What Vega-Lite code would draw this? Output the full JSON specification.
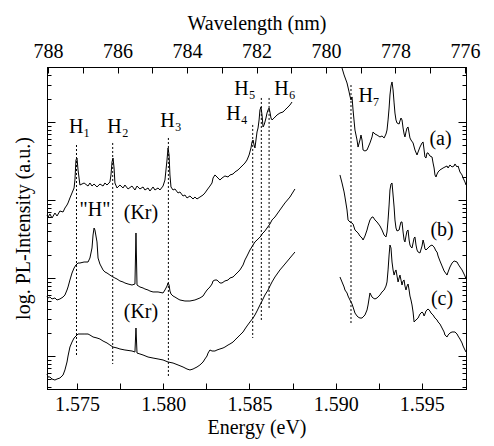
{
"$schema":"https://vega.github.io/schema/vega-lite/v6.json",
"width":419,"height":322,
"autosize":{"type":"none"},
"padding":{"left":47,"top":67,"right":28,"bottom":57},
"background":"white",
"view":{"stroke":"black","strokeWidth":1},
"config":{"font":"Liberation Serif","view":{"stroke":"black","strokeWidth":1},
"style":{"guide-label":{"font":"Liberation Serif","fontSize":20,"fill":"black"},"guide-title":{"font":"Liberation Serif","fontSize":20,"fontWeight":"normal","fill":"black"}},
"axis":{"labelFont":"Liberation Serif","titleFont":"Liberation Serif","labelFontSize":20,"titleFontSize":20,"titleFontWeight":"normal","labelColor":"black","titleColor":"black","tickColor":"black","domain":true,"domainColor":"black","domainWidth":1,"grid":false,"tickWidth":1}},
"datasets":{
"curves":[
{"s":"a1","E":1.57326,"L":1.808},{"s":"a1","E":1.57332,"L":1.782},{"s":"a1","E":1.57343,"L":1.821},{"s":"a1","E":1.57355,"L":1.769},{"s":"a1","E":1.57372,"L":1.833},{"s":"a1","E":1.57384,"L":1.795},{"s":"a1","E":1.57401,"L":1.859},{"s":"a1","E":1.57419,"L":1.846},{"s":"a1","E":1.5743,"L":1.897},{"s":"a1","E":1.57442,"L":1.936},{"s":"a1","E":1.57448,"L":1.962},{"s":"a1","E":1.57459,"L":2.026},{"s":"a1","E":1.57471,"L":2.09},{"s":"a1","E":1.57483,"L":2.154},{"s":"a1","E":1.57488,"L":2.256},{"s":"a1","E":1.57494,"L":2.513},{"s":"a1","E":1.575,"L":2.538},{"s":"a1","E":1.57506,"L":2.385},{"s":"a1","E":1.57517,"L":2.192},{"s":"a1","E":1.57541,"L":2.218},{"s":"a1","E":1.57564,"L":2.179},{"s":"a1","E":1.57575,"L":2.218},{"s":"a1","E":1.57587,"L":2.179},{"s":"a1","E":1.57599,"L":2.205},{"s":"a1","E":1.57616,"L":2.167},{"s":"a1","E":1.57633,"L":2.205},{"s":"a1","E":1.57651,"L":2.179},{"s":"a1","E":1.57662,"L":2.218},{"s":"a1","E":1.57674,"L":2.192},{"s":"a1","E":1.57691,"L":2.231},{"s":"a1","E":1.57697,"L":2.321},{"s":"a1","E":1.57703,"L":2.487},{"s":"a1","E":1.57709,"L":2.538},{"s":"a1","E":1.57715,"L":2.41},{"s":"a1","E":1.5772,"L":2.218},{"s":"a1","E":1.57732,"L":2.154},{"s":"a1","E":1.57749,"L":2.192},{"s":"a1","E":1.57767,"L":2.154},{"s":"a1","E":1.57778,"L":2.192},{"s":"a1","E":1.57796,"L":2.141},{"s":"a1","E":1.57819,"L":2.179},{"s":"a1","E":1.57836,"L":2.128},{"s":"a1","E":1.57848,"L":2.179},{"s":"a1","E":1.57865,"L":2.141},{"s":"a1","E":1.57883,"L":2.167},{"s":"a1","E":1.57894,"L":2.128},{"s":"a1","E":1.57912,"L":2.154},{"s":"a1","E":1.57923,"L":2.115},{"s":"a1","E":1.57941,"L":2.167},{"s":"a1","E":1.57952,"L":2.128},{"s":"a1","E":1.5797,"L":2.154},{"s":"a1","E":1.57981,"L":2.128},{"s":"a1","E":1.57999,"L":2.179},{"s":"a1","E":1.5801,"L":2.256},{"s":"a1","E":1.58022,"L":2.513},{"s":"a1","E":1.58028,"L":2.667},{"s":"a1","E":1.58034,"L":2.577},{"s":"a1","E":1.58039,"L":2.321},{"s":"a1","E":1.58045,"L":2.167},{"s":"a1","E":1.58057,"L":2.128},{"s":"a1","E":1.58068,"L":2.141},{"s":"a1","E":1.58086,"L":2.09},{"s":"a1","E":1.58097,"L":2.103},{"s":"a1","E":1.58115,"L":2.051},{"s":"a1","E":1.58126,"L":2.064},{"s":"a1","E":1.58138,"L":2.026},{"s":"a1","E":1.58155,"L":2.051},{"s":"a1","E":1.58173,"L":2.013},{"s":"a1","E":1.58184,"L":2.038},{"s":"a1","E":1.58196,"L":2.013},{"s":"a1","E":1.58213,"L":2.038},{"s":"a1","E":1.58231,"L":2.064},{"s":"a1","E":1.58242,"L":2.09},{"s":"a1","E":1.58254,"L":2.128},{"s":"a1","E":1.58271,"L":2.179},{"s":"a1","E":1.58283,"L":2.218},{"s":"a1","E":1.58289,"L":2.282},{"s":"a1","E":1.583,"L":2.321},{"s":"a1","E":1.58312,"L":2.295},{"s":"a1","E":1.58329,"L":2.256},{"s":"a1","E":1.58341,"L":2.282},{"s":"a1","E":1.58358,"L":2.308},{"s":"a1","E":1.58376,"L":2.295},{"s":"a1","E":1.58387,"L":2.321},{"s":"a1","E":1.58405,"L":2.333},{"s":"a1","E":1.58416,"L":2.359},{"s":"a1","E":1.58434,"L":2.385},{"s":"a1","E":1.58445,"L":2.41},{"s":"a1","E":1.58463,"L":2.449},{"s":"a1","E":1.58474,"L":2.474},{"s":"a1","E":1.58486,"L":2.513},{"s":"a1","E":1.58498,"L":2.577},{"s":"a1","E":1.58509,"L":2.667},{"s":"a1","E":1.58515,"L":2.744},{"s":"a1","E":1.58521,"L":2.769},{"s":"a1","E":1.58527,"L":2.705},{"s":"a1","E":1.58532,"L":2.667},{"s":"a1","E":1.58538,"L":2.769},{"s":"a1","E":1.58544,"L":2.872},{"s":"a1","E":1.5855,"L":2.923},{"s":"a1","E":1.58556,"L":3.026},{"s":"a1","E":1.58561,"L":3.154},{"s":"a1","E":1.58567,"L":3.192},{"s":"a1","E":1.58573,"L":3.09},{"s":"a1","E":1.58579,"L":2.936},{"s":"a1","E":1.58585,"L":2.962},{"s":"a1","E":1.5859,"L":3.0},{"s":"a1","E":1.58596,"L":3.051},{"s":"a1","E":1.58602,"L":3.115},{"s":"a1","E":1.58608,"L":3.154},{"s":"a1","E":1.58614,"L":3.179},{"s":"a1","E":1.58619,"L":3.128},{"s":"a1","E":1.58625,"L":3.051},{"s":"a1","E":1.58631,"L":3.026},{"s":"a1","E":1.58643,"L":3.051},{"s":"a1","E":1.5866,"L":3.09},{"s":"a1","E":1.58677,"L":3.115},{"s":"a1","E":1.58695,"L":3.128},{"s":"a1","E":1.58706,"L":3.154},{"s":"a1","E":1.58718,"L":3.179},{"s":"a1","E":1.58735,"L":3.218},{"s":"a1","E":1.58747,"L":3.256},
{"s":"a2","E":1.59037,"L":3.692},{"s":"a2","E":1.59049,"L":3.603},{"s":"a2","E":1.59066,"L":3.5},{"s":"a2","E":1.59078,"L":3.385},{"s":"a2","E":1.59083,"L":3.333},{"s":"a2","E":1.59089,"L":3.282},{"s":"a2","E":1.59095,"L":3.321},{"s":"a2","E":1.59101,"L":3.154},{"s":"a2","E":1.59112,"L":2.897},{"s":"a2","E":1.59124,"L":2.769},{"s":"a2","E":1.5913,"L":2.679},{"s":"a2","E":1.59141,"L":2.769},{"s":"a2","E":1.59147,"L":2.833},{"s":"a2","E":1.59153,"L":2.769},{"s":"a2","E":1.59159,"L":2.641},{"s":"a2","E":1.5917,"L":2.628},{"s":"a2","E":1.59182,"L":2.641},{"s":"a2","E":1.59199,"L":2.731},{"s":"a2","E":1.59211,"L":2.808},{"s":"a2","E":1.59217,"L":2.872},{"s":"a2","E":1.59228,"L":2.846},{"s":"a2","E":1.5924,"L":2.833},{"s":"a2","E":1.59257,"L":2.808},{"s":"a2","E":1.59269,"L":2.821},{"s":"a2","E":1.59281,"L":2.795},{"s":"a2","E":1.59292,"L":2.846},{"s":"a2","E":1.59298,"L":2.897},{"s":"a2","E":1.59304,"L":3.026},{"s":"a2","E":1.5931,"L":3.179},{"s":"a2","E":1.59315,"L":3.346},{"s":"a2","E":1.59321,"L":3.462},{"s":"a2","E":1.59327,"L":3.513},{"s":"a2","E":1.59333,"L":3.41},{"s":"a2","E":1.59339,"L":3.244},{"s":"a2","E":1.59344,"L":3.115},{"s":"a2","E":1.5935,"L":3.026},{"s":"a2","E":1.59356,"L":2.987},{"s":"a2","E":1.59368,"L":2.974},{"s":"a2","E":1.59373,"L":3.013},{"s":"a2","E":1.59379,"L":3.051},{"s":"a2","E":1.59385,"L":3.026},{"s":"a2","E":1.59391,"L":2.923},{"s":"a2","E":1.59397,"L":2.846},{"s":"a2","E":1.59402,"L":2.808},{"s":"a2","E":1.59408,"L":2.872},{"s":"a2","E":1.59414,"L":2.923},{"s":"a2","E":1.5942,"L":2.936},{"s":"a2","E":1.59426,"L":2.859},{"s":"a2","E":1.59431,"L":2.795},{"s":"a2","E":1.59437,"L":2.769},{"s":"a2","E":1.59449,"L":2.731},{"s":"a2","E":1.5946,"L":2.641},{"s":"a2","E":1.59472,"L":2.577},{"s":"a2","E":1.59478,"L":2.615},{"s":"a2","E":1.59489,"L":2.679},{"s":"a2","E":1.59501,"L":2.731},{"s":"a2","E":1.59507,"L":2.744},{"s":"a2","E":1.59513,"L":2.641},{"s":"a2","E":1.59518,"L":2.551},{"s":"a2","E":1.59524,"L":2.538},{"s":"a2","E":1.5953,"L":2.603},{"s":"a2","E":1.59536,"L":2.603},{"s":"a2","E":1.59547,"L":2.564},{"s":"a2","E":1.59559,"L":2.551},{"s":"a2","E":1.59565,"L":2.474},{"s":"a2","E":1.59571,"L":2.41},{"s":"a2","E":1.59576,"L":2.321},{"s":"a2","E":1.59582,"L":2.295},{"s":"a2","E":1.59588,"L":2.333},{"s":"a2","E":1.59594,"L":2.359},{"s":"a2","E":1.59605,"L":2.385},{"s":"a2","E":1.59623,"L":2.41},{"s":"a2","E":1.59634,"L":2.423},{"s":"a2","E":1.59646,"L":2.436},{"s":"a2","E":1.59652,"L":2.41},{"s":"a2","E":1.59663,"L":2.449},{"s":"a2","E":1.59675,"L":2.423},{"s":"a2","E":1.59687,"L":2.436},{"s":"a2","E":1.59692,"L":2.462},{"s":"a2","E":1.59704,"L":2.423},{"s":"a2","E":1.5971,"L":2.436},{"s":"a2","E":1.59721,"L":2.359},{"s":"a2","E":1.59733,"L":2.321},{"s":"a2","E":1.59739,"L":2.282},{"s":"a2","E":1.5975,"L":2.231},{"s":"a2","E":1.59756,"L":2.192},
{"s":"b1","E":1.57326,"L":0.769},{"s":"b1","E":1.57332,"L":0.744},{"s":"b1","E":1.57343,"L":0.756},{"s":"b1","E":1.57355,"L":0.731},{"s":"b1","E":1.57372,"L":0.744},{"s":"b1","E":1.57384,"L":0.718},{"s":"b1","E":1.57401,"L":0.731},{"s":"b1","E":1.57419,"L":0.756},{"s":"b1","E":1.5743,"L":0.782},{"s":"b1","E":1.57442,"L":0.846},{"s":"b1","E":1.57448,"L":0.885},{"s":"b1","E":1.57459,"L":0.974},{"s":"b1","E":1.57471,"L":1.064},{"s":"b1","E":1.57483,"L":1.128},{"s":"b1","E":1.57494,"L":1.167},{"s":"b1","E":1.57506,"L":1.192},{"s":"b1","E":1.57517,"L":1.192},{"s":"b1","E":1.57541,"L":1.205},{"s":"b1","E":1.57564,"L":1.205},{"s":"b1","E":1.57575,"L":1.256},{"s":"b1","E":1.57587,"L":1.385},{"s":"b1","E":1.57593,"L":1.551},{"s":"b1","E":1.57599,"L":1.641},{"s":"b1","E":1.57604,"L":1.615},{"s":"b1","E":1.57616,"L":1.462},{"s":"b1","E":1.57622,"L":1.256},{"s":"b1","E":1.57633,"L":1.179},{"s":"b1","E":1.57651,"L":1.103},{"s":"b1","E":1.57662,"L":1.077},{"s":"b1","E":1.57674,"L":1.064},{"s":"b1","E":1.57691,"L":1.038},{"s":"b1","E":1.57709,"L":1.013},{"s":"b1","E":1.5772,"L":1.0},{"s":"b1","E":1.57732,"L":0.987},{"s":"b1","E":1.57749,"L":0.962},{"s":"b1","E":1.57767,"L":0.949},{"s":"b1","E":1.57778,"L":0.936},{"s":"b1","E":1.57796,"L":0.923},{"s":"b1","E":1.57819,"L":0.91},{"s":"b1","E":1.57836,"L":0.923},{"s":"b1","E":1.57842,"L":1.577},{"s":"b1","E":1.57848,"L":0.91},{"s":"b1","E":1.57865,"L":0.885},{"s":"b1","E":1.57883,"L":0.872},{"s":"b1","E":1.57894,"L":0.859},{"s":"b1","E":1.57912,"L":0.846},{"s":"b1","E":1.57923,"L":0.833},{"s":"b1","E":1.57941,"L":0.821},{"s":"b1","E":1.5797,"L":0.821},{"s":"b1","E":1.57999,"L":0.808},{"s":"b1","E":1.5801,"L":0.846},{"s":"b1","E":1.58022,"L":0.897},{"s":"b1","E":1.58028,"L":0.936},{"s":"b1","E":1.58034,"L":0.91},{"s":"b1","E":1.58039,"L":0.833},{"s":"b1","E":1.58045,"L":0.795},{"s":"b1","E":1.58057,"L":0.769},{"s":"b1","E":1.58068,"L":0.756},{"s":"b1","E":1.58086,"L":0.731},{"s":"b1","E":1.58097,"L":0.718},{"s":"b1","E":1.58126,"L":0.705},{"s":"b1","E":1.58155,"L":0.705},{"s":"b1","E":1.58184,"L":0.718},{"s":"b1","E":1.58213,"L":0.744},{"s":"b1","E":1.58231,"L":0.769},{"s":"b1","E":1.58242,"L":0.808},{"s":"b1","E":1.58254,"L":0.846},{"s":"b1","E":1.58271,"L":0.885},{"s":"b1","E":1.58283,"L":0.923},{"s":"b1","E":1.58289,"L":0.962},{"s":"b1","E":1.583,"L":0.974},{"s":"b1","E":1.58312,"L":0.974},{"s":"b1","E":1.58329,"L":0.936},{"s":"b1","E":1.58341,"L":0.936},{"s":"b1","E":1.58358,"L":0.962},{"s":"b1","E":1.58376,"L":0.974},{"s":"b1","E":1.58387,"L":1.0},{"s":"b1","E":1.58405,"L":1.013},{"s":"b1","E":1.58416,"L":1.038},{"s":"b1","E":1.58434,"L":1.077},{"s":"b1","E":1.58445,"L":1.103},{"s":"b1","E":1.58463,"L":1.167},{"s":"b1","E":1.58474,"L":1.231},{"s":"b1","E":1.58486,"L":1.282},{"s":"b1","E":1.58503,"L":1.359},{"s":"b1","E":1.58521,"L":1.423},{"s":"b1","E":1.58532,"L":1.462},{"s":"b1","E":1.58544,"L":1.487},{"s":"b1","E":1.58556,"L":1.513},{"s":"b1","E":1.58567,"L":1.538},{"s":"b1","E":1.58573,"L":1.564},{"s":"b1","E":1.58579,"L":1.577},{"s":"b1","E":1.5859,"L":1.603},{"s":"b1","E":1.58602,"L":1.641},{"s":"b1","E":1.58619,"L":1.692},{"s":"b1","E":1.58631,"L":1.744},{"s":"b1","E":1.58648,"L":1.782},{"s":"b1","E":1.58677,"L":1.872},{"s":"b1","E":1.58706,"L":1.962},{"s":"b1","E":1.58735,"L":2.038},{"s":"b1","E":1.58764,"L":2.141},
{"s":"b2","E":1.59025,"L":2.321},{"s":"b2","E":1.59037,"L":2.218},{"s":"b2","E":1.59049,"L":2.103},{"s":"b2","E":1.59054,"L":2.038},{"s":"b2","E":1.59066,"L":1.872},{"s":"b2","E":1.59072,"L":1.744},{"s":"b2","E":1.59083,"L":1.718},{"s":"b2","E":1.59095,"L":1.705},{"s":"b2","E":1.59101,"L":1.692},{"s":"b2","E":1.59112,"L":1.615},{"s":"b2","E":1.5913,"L":1.577},{"s":"b2","E":1.59141,"L":1.538},{"s":"b2","E":1.59153,"L":1.513},{"s":"b2","E":1.59159,"L":1.487},{"s":"b2","E":1.5917,"L":1.538},{"s":"b2","E":1.59182,"L":1.615},{"s":"b2","E":1.59188,"L":1.667},{"s":"b2","E":1.59199,"L":1.744},{"s":"b2","E":1.59211,"L":1.782},{"s":"b2","E":1.59217,"L":1.782},{"s":"b2","E":1.59228,"L":1.744},{"s":"b2","E":1.5924,"L":1.718},{"s":"b2","E":1.59257,"L":1.667},{"s":"b2","E":1.59269,"L":1.615},{"s":"b2","E":1.59281,"L":1.551},{"s":"b2","E":1.59292,"L":1.526},{"s":"b2","E":1.59298,"L":1.59},{"s":"b2","E":1.59304,"L":1.744},{"s":"b2","E":1.5931,"L":1.936},{"s":"b2","E":1.59315,"L":2.128},{"s":"b2","E":1.59321,"L":2.205},{"s":"b2","E":1.59327,"L":2.218},{"s":"b2","E":1.59333,"L":2.064},{"s":"b2","E":1.59339,"L":1.91},{"s":"b2","E":1.59344,"L":1.744},{"s":"b2","E":1.5935,"L":1.641},{"s":"b2","E":1.59356,"L":1.603},{"s":"b2","E":1.59368,"L":1.615},{"s":"b2","E":1.59373,"L":1.667},{"s":"b2","E":1.59379,"L":1.718},{"s":"b2","E":1.59385,"L":1.718},{"s":"b2","E":1.59391,"L":1.59},{"s":"b2","E":1.59397,"L":1.487},{"s":"b2","E":1.59402,"L":1.462},{"s":"b2","E":1.59408,"L":1.538},{"s":"b2","E":1.59414,"L":1.603},{"s":"b2","E":1.5942,"L":1.615},{"s":"b2","E":1.59426,"L":1.487},{"s":"b2","E":1.59431,"L":1.423},{"s":"b2","E":1.59437,"L":1.397},{"s":"b2","E":1.59443,"L":1.385},{"s":"b2","E":1.59449,"L":1.449},{"s":"b2","E":1.59455,"L":1.513},{"s":"b2","E":1.5946,"L":1.526},{"s":"b2","E":1.59466,"L":1.423},{"s":"b2","E":1.59472,"L":1.359},{"s":"b2","E":1.59478,"L":1.333},{"s":"b2","E":1.59489,"L":1.321},{"s":"b2","E":1.59501,"L":1.41},{"s":"b2","E":1.59507,"L":1.487},{"s":"b2","E":1.59513,"L":1.436},{"s":"b2","E":1.59518,"L":1.372},{"s":"b2","E":1.59524,"L":1.359},{"s":"b2","E":1.59536,"L":1.385},{"s":"b2","E":1.59547,"L":1.41},{"s":"b2","E":1.59559,"L":1.423},{"s":"b2","E":1.59571,"L":1.397},{"s":"b2","E":1.59582,"L":1.346},{"s":"b2","E":1.59588,"L":1.333},{"s":"b2","E":1.59594,"L":1.282},{"s":"b2","E":1.59605,"L":1.218},{"s":"b2","E":1.59617,"L":1.154},{"s":"b2","E":1.59629,"L":1.09},{"s":"b2","E":1.59646,"L":1.038},{"s":"b2","E":1.59652,"L":1.077},{"s":"b2","E":1.59663,"L":1.141},{"s":"b2","E":1.59675,"L":1.192},{"s":"b2","E":1.59687,"L":1.218},{"s":"b2","E":1.59704,"L":1.205},{"s":"b2","E":1.5971,"L":1.179},{"s":"b2","E":1.59721,"L":1.141},{"s":"b2","E":1.59733,"L":1.103},{"s":"b2","E":1.5975,"L":1.026},{"s":"b2","E":1.59756,"L":0.987},
{"s":"c1","E":1.57326,"L":-0.231},{"s":"c1","E":1.57332,"L":-0.269},{"s":"c1","E":1.57343,"L":-0.269},{"s":"c1","E":1.57355,"L":-0.295},{"s":"c1","E":1.57372,"L":-0.308},{"s":"c1","E":1.57384,"L":-0.295},{"s":"c1","E":1.57401,"L":-0.282},{"s":"c1","E":1.57419,"L":-0.244},{"s":"c1","E":1.5743,"L":-0.179},{"s":"c1","E":1.57442,"L":-0.077},{"s":"c1","E":1.57448,"L":0.0},{"s":"c1","E":1.57459,"L":0.115},{"s":"c1","E":1.57471,"L":0.179},{"s":"c1","E":1.57483,"L":0.231},{"s":"c1","E":1.57494,"L":0.256},{"s":"c1","E":1.57506,"L":0.282},{"s":"c1","E":1.57541,"L":0.282},{"s":"c1","E":1.57564,"L":0.282},{"s":"c1","E":1.57575,"L":0.269},{"s":"c1","E":1.57593,"L":0.244},{"s":"c1","E":1.57616,"L":0.231},{"s":"c1","E":1.57633,"L":0.218},{"s":"c1","E":1.57651,"L":0.192},{"s":"c1","E":1.57674,"L":0.167},{"s":"c1","E":1.57691,"L":0.141},{"s":"c1","E":1.57709,"L":0.115},{"s":"c1","E":1.57732,"L":0.103},{"s":"c1","E":1.57749,"L":0.09},{"s":"c1","E":1.57778,"L":0.077},{"s":"c1","E":1.57819,"L":0.064},{"s":"c1","E":1.57836,"L":0.051},{"s":"c1","E":1.57842,"L":0.359},{"s":"c1","E":1.57848,"L":0.038},{"s":"c1","E":1.57865,"L":0.026},{"s":"c1","E":1.57883,"L":0.013},{"s":"c1","E":1.57912,"L":-0.013},{"s":"c1","E":1.57941,"L":-0.026},{"s":"c1","E":1.5797,"L":-0.038},{"s":"c1","E":1.57999,"L":-0.051},{"s":"c1","E":1.58028,"L":-0.077},{"s":"c1","E":1.58057,"L":-0.09},{"s":"c1","E":1.58086,"L":-0.115},{"s":"c1","E":1.58115,"L":-0.141},{"s":"c1","E":1.58138,"L":-0.167},{"s":"c1","E":1.58155,"L":-0.179},{"s":"c1","E":1.58173,"L":-0.167},{"s":"c1","E":1.58184,"L":-0.154},{"s":"c1","E":1.58196,"L":-0.141},{"s":"c1","E":1.58213,"L":-0.115},{"s":"c1","E":1.58231,"L":-0.077},{"s":"c1","E":1.58242,"L":-0.038},{"s":"c1","E":1.58254,"L":0.0},{"s":"c1","E":1.5826,"L":0.038},{"s":"c1","E":1.58271,"L":0.077},{"s":"c1","E":1.58283,"L":0.064},{"s":"c1","E":1.583,"L":0.064},{"s":"c1","E":1.58312,"L":0.077},{"s":"c1","E":1.58329,"L":0.09},{"s":"c1","E":1.58347,"L":0.103},{"s":"c1","E":1.58358,"L":0.115},{"s":"c1","E":1.58376,"L":0.141},{"s":"c1","E":1.58387,"L":0.154},{"s":"c1","E":1.58405,"L":0.179},{"s":"c1","E":1.58416,"L":0.205},{"s":"c1","E":1.58434,"L":0.244},{"s":"c1","E":1.58445,"L":0.269},{"s":"c1","E":1.58463,"L":0.308},{"s":"c1","E":1.58474,"L":0.346},{"s":"c1","E":1.58486,"L":0.385},{"s":"c1","E":1.58503,"L":0.436},{"s":"c1","E":1.58521,"L":0.487},{"s":"c1","E":1.58532,"L":0.526},{"s":"c1","E":1.58544,"L":0.577},{"s":"c1","E":1.58561,"L":0.654},{"s":"c1","E":1.58573,"L":0.705},{"s":"c1","E":1.5859,"L":0.782},{"s":"c1","E":1.58608,"L":0.846},{"s":"c1","E":1.58619,"L":0.897},{"s":"c1","E":1.58631,"L":0.949},{"s":"c1","E":1.58648,"L":1.013},{"s":"c1","E":1.58677,"L":1.103},{"s":"c1","E":1.58706,"L":1.179},{"s":"c1","E":1.58735,"L":1.256},{"s":"c1","E":1.58764,"L":1.333},
{"s":"c2","E":1.59025,"L":1.013},{"s":"c2","E":1.59037,"L":0.949},{"s":"c2","E":1.59049,"L":0.885},{"s":"c2","E":1.59054,"L":0.846},{"s":"c2","E":1.59066,"L":0.808},{"s":"c2","E":1.59072,"L":0.769},{"s":"c2","E":1.59083,"L":0.718},{"s":"c2","E":1.59095,"L":0.667},{"s":"c2","E":1.59101,"L":0.628},{"s":"c2","E":1.59112,"L":0.551},{"s":"c2","E":1.59124,"L":0.513},{"s":"c2","E":1.5913,"L":0.5},{"s":"c2","E":1.59141,"L":0.487},{"s":"c2","E":1.59153,"L":0.487},{"s":"c2","E":1.59159,"L":0.5},{"s":"c2","E":1.5917,"L":0.526},{"s":"c2","E":1.59182,"L":0.59},{"s":"c2","E":1.59188,"L":0.654},{"s":"c2","E":1.59199,"L":0.808},{"s":"c2","E":1.59211,"L":0.756},{"s":"c2","E":1.59217,"L":0.744},{"s":"c2","E":1.59228,"L":0.731},{"s":"c2","E":1.5924,"L":0.744},{"s":"c2","E":1.59257,"L":0.782},{"s":"c2","E":1.59269,"L":0.821},{"s":"c2","E":1.59281,"L":0.846},{"s":"c2","E":1.59292,"L":0.897},{"s":"c2","E":1.59298,"L":0.949},{"s":"c2","E":1.59304,"L":1.103},{"s":"c2","E":1.5931,"L":1.295},{"s":"c2","E":1.59315,"L":1.423},{"s":"c2","E":1.59321,"L":1.385},{"s":"c2","E":1.59327,"L":1.205},{"s":"c2","E":1.59333,"L":1.103},{"s":"c2","E":1.59339,"L":1.038},{"s":"c2","E":1.59344,"L":1.077},{"s":"c2","E":1.5935,"L":1.103},{"s":"c2","E":1.59356,"L":1.026},{"s":"c2","E":1.59362,"L":0.949},{"s":"c2","E":1.59368,"L":1.0},{"s":"c2","E":1.59373,"L":1.038},{"s":"c2","E":1.59379,"L":0.974},{"s":"c2","E":1.59385,"L":0.91},{"s":"c2","E":1.59391,"L":0.962},{"s":"c2","E":1.59397,"L":0.974},{"s":"c2","E":1.59402,"L":0.897},{"s":"c2","E":1.59408,"L":0.846},{"s":"c2","E":1.59414,"L":0.897},{"s":"c2","E":1.5942,"L":0.923},{"s":"c2","E":1.59426,"L":0.846},{"s":"c2","E":1.59431,"L":0.769},{"s":"c2","E":1.59437,"L":0.718},{"s":"c2","E":1.59443,"L":0.654},{"s":"c2","E":1.59449,"L":0.564},{"s":"c2","E":1.59455,"L":0.436},{"s":"c2","E":1.5946,"L":0.449},{"s":"c2","E":1.59466,"L":0.462},{"s":"c2","E":1.59472,"L":0.474},{"s":"c2","E":1.59478,"L":0.487},{"s":"c2","E":1.59489,"L":0.538},{"s":"c2","E":1.59501,"L":0.564},{"s":"c2","E":1.59507,"L":0.551},{"s":"c2","E":1.59513,"L":0.513},{"s":"c2","E":1.59518,"L":0.538},{"s":"c2","E":1.59524,"L":0.577},{"s":"c2","E":1.59536,"L":0.603},{"s":"c2","E":1.59547,"L":0.577},{"s":"c2","E":1.59553,"L":0.551},{"s":"c2","E":1.59565,"L":0.526},{"s":"c2","E":1.59576,"L":0.487},{"s":"c2","E":1.59588,"L":0.462},{"s":"c2","E":1.59594,"L":0.436},{"s":"c2","E":1.59605,"L":0.41},{"s":"c2","E":1.59617,"L":0.359},{"s":"c2","E":1.59629,"L":0.308},{"s":"c2","E":1.59634,"L":0.269},{"s":"c2","E":1.59646,"L":0.244},{"s":"c2","E":1.59652,"L":0.269},{"s":"c2","E":1.59663,"L":0.295},{"s":"c2","E":1.59675,"L":0.308},{"s":"c2","E":1.59692,"L":0.308},{"s":"c2","E":1.59704,"L":0.282},{"s":"c2","E":1.5971,"L":0.256},{"s":"c2","E":1.59721,"L":0.218},{"s":"c2","E":1.59733,"L":0.167},{"s":"c2","E":1.59739,"L":0.128},{"s":"c2","E":1.5975,"L":0.077},{"s":"c2","E":1.59756,"L":0.051}
],
"rules":[
{"E":1.57497,"L":2.705,"L2":-0.013},{"E":1.57707,"L":2.731,"L2":-0.103},{"E":1.5803,"L":2.795,"L2":-0.269},{"E":1.58519,"L":2.962,"L2":0.231},{"E":1.58569,"L":3.308,"L2":0.462},{"E":1.58614,"L":3.308,"L2":0.615},{"E":1.59089,"L":3.474,"L2":0.397}
],
"hlab":[
{"E":1.57515,"L":2.859,"t":"H₁"},{"E":1.57738,"L":2.859,"t":"H₂"},{"E":1.58045,"L":2.936,"t":"H₃"},{"E":1.58428,"L":3.026,"t":"H₄"},{"E":1.58474,"L":3.346,"t":"H₅"},{"E":1.58706,"L":3.346,"t":"H₆"},{"E":1.59194,"L":3.256,"t":"H₇"},{"E":1.57604,"L":1.795,"t":"\"H\""},{"E":1.57871,"L":1.756,"t":"(Kr)"},{"E":1.57871,"L":0.487,"t":"(Kr)"}
],
"abc":[
{"E":1.59608,"L":2.705,"t":"(a)"},{"E":1.59617,"L":1.538,"t":"(b)"},{"E":1.59617,"L":0.654,"t":"(c)"}
],
"wl":[{"wl":788},{"wl":776}]
},
"layer":[
{
"encoding":{"x":{"field":"E","type":"quantitative","scale":{"domain":[1.57326,1.59756],"nice":false,"zero":false},
"axis":{"orient":"bottom","title":"Energy (eV)","values":[1.575,1.5775,1.58,1.5825,1.585,1.5875,1.59,1.5925,1.595],"labelExpr":"abs(datum.value*200 - round(datum.value*200)) < 0.001 ? format(datum.value, '.3f') : ''","tickSize":-6,"labelPadding":11,"titlePadding":3,"labelFlush":false,"labelOverlap":false,"labelFont":"Liberation Serif","titleFont":"Liberation Serif","labelFontSize":20,"titleFontSize":20,"titleFontWeight":"normal","labelColor":"black","titleColor":"black","tickColor":"black","domain":true,"domainColor":"black","domainWidth":1,"grid":false}}},
"layer":[
{"data":{"name":"curves"},"mark":{"type":"line","stroke":"black","strokeWidth":1},
"encoding":{"y":{"field":"L","type":"quantitative","scale":{"domain":[-0.423,3.705],"nice":false,"zero":false},
"axis":{"orient":"left","title":"log. PL-Intensity (a.u.)","titleFont":"Liberation Serif","titleFontSize":20,"titleFontWeight":"normal","titleColor":"black","titlePadding":13,"labels":false,"tickSize":-4,"tickColor":"black","domain":true,"domainColor":"black","grid":false,"values":[-0.398,-0.301,-0.222,-0.155,-0.097,-0.046,0.301,0.477,0.602,0.699,0.778,0.845,0.903,0.954,1.301,1.477,1.602,1.699,1.778,1.845,1.903,1.954,2.301,2.477,2.602,2.699,2.778,2.845,2.903,2.954,3.301,3.477,3.602,3.699]}},
"detail":{"field":"s"}}},
{"data":{"name":"rules"},"mark":{"type":"rule","stroke":"black","strokeWidth":1,"strokeDash":[2,2]},
"encoding":{"y":{"field":"L","type":"quantitative","scale":{"domain":[-0.423,3.705],"nice":false,"zero":false},
"axis":{"orient":"left","title":null,"labels":false,"tickSize":-8,"tickColor":"black","domain":true,"domainColor":"black","grid":false,"values":[0,1,2,3]}},
"y2":{"field":"L2"}}},
{"data":{"name":"hlab"},"mark":{"type":"text","font":"Liberation Serif","fontSize":20,"align":"center","baseline":"alphabetic","color":"black"},
"encoding":{"y":{"field":"L","type":"quantitative","scale":{"domain":[-0.423,3.705],"nice":false,"zero":false},
"axis":{"orient":"right","title":null,"labels":false,"tickSize":-4,"tickColor":"black","domain":true,"domainColor":"black","grid":false,"values":[-0.398,-0.301,-0.222,-0.155,-0.097,-0.046,0.301,0.477,0.602,0.699,0.778,0.845,0.903,0.954,1.301,1.477,1.602,1.699,1.778,1.845,1.903,1.954,2.301,2.477,2.602,2.699,2.778,2.845,2.903,2.954,3.301,3.477,3.602,3.699]}},
"text":{"field":"t"}}},
{"data":{"name":"abc"},"mark":{"type":"text","font":"Liberation Serif","fontSize":20,"align":"center","baseline":"alphabetic","color":"black"},
"encoding":{"y":{"field":"L","type":"quantitative","scale":{"domain":[-0.423,3.705],"nice":false,"zero":false},
"axis":{"orient":"right","title":null,"labels":false,"tickSize":-8,"tickColor":"black","domain":true,"domainColor":"black","grid":false,"values":[0,1,2,3]}},
"text":{"field":"t"}}}
],
"resolve":{"axis":{"y":"independent"}}
},
{"data":{"name":"wl"},"mark":{"type":"point","opacity":0},
"encoding":{"x":{"field":"wl","type":"quantitative","scale":{"domain":[788.03,775.97],"nice":false,"zero":false},
"axis":{"orient":"top","title":"Wavelength (nm)","values":[776,777,778,779,780,781,782,783,784,785,786,787,788],"format":"d","labelExpr":"datum.value % 2 == 0 ? datum.label : ''","tickSize":-6,"labelPadding":12,"titlePadding":8,"labelFlush":false,"labelOverlap":false,"labelFont":"Liberation Serif","titleFont":"Liberation Serif","labelFontSize":20,"titleFontSize":20,"titleFontWeight":"normal","labelColor":"black","titleColor":"black","tickColor":"black","domain":true,"domainColor":"black","domainWidth":1,"grid":false}}}}
],
"resolve":{"scale":{"x":"independent"}}
}
